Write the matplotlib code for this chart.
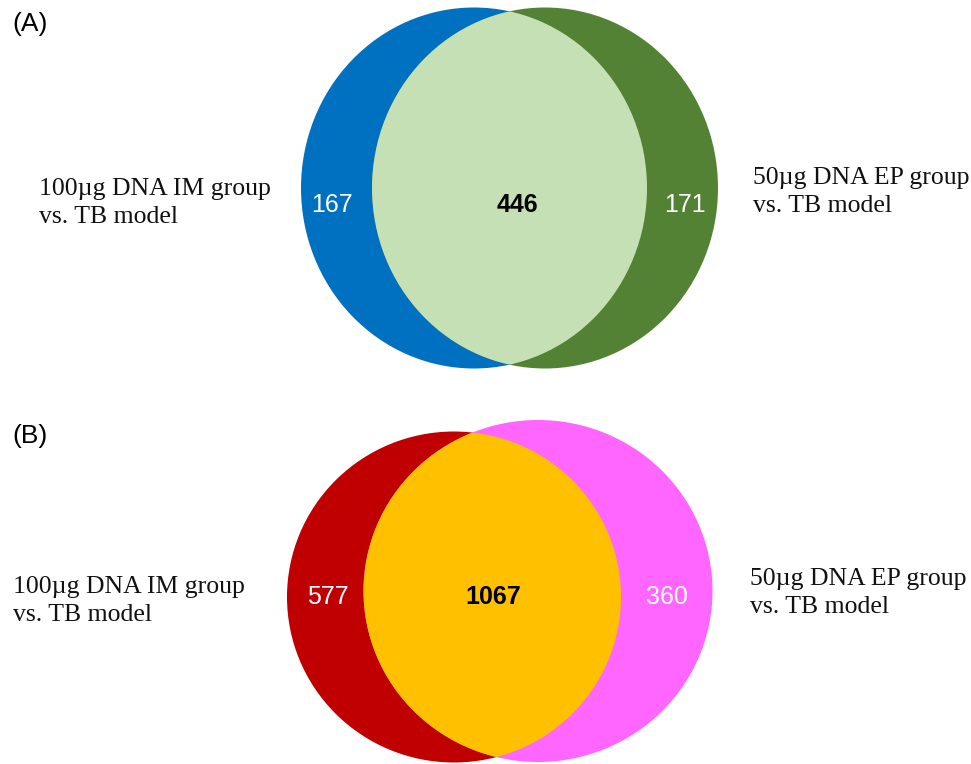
import matplotlib
matplotlib.use("Agg")
import matplotlib.pyplot as plt
from matplotlib.patches import Ellipse

# Data
panel_labels = ["(A)", "(B)"]
set_left_names = ["100µg DNA IM group\nvs. TB model", "100µg DNA IM group\nvs. TB model"]
set_right_names = ["50µg DNA EP group\nvs. TB model", "50µg DNA EP group\nvs. TB model"]
only_left = [167, 577]
both = [446, 1067]
only_right = [171, 360]

# Styles / layout (pixel coordinates)
left_colors = ["#0070C0", "#C00000"]
right_colors = ["#548235", "#FF66FF"]
mid_colors = ["#C5E0B4", "#FFC000"]
left_ell = [(474, 188, 346, 361), (454, 597, 334, 331)]
right_ell = [(545, 188, 346, 361), (538, 591, 349, 342)]
num_y = [205, 597]
num_x = [(332, 517, 685), (328, 493, 667)]
panel_label_pos = [(12, 24), (12, 436)]
left_text_pos = [(39, 195), (13, 593)]
right_text_pos = [(753, 184), (750, 585)]
line_gap = 28

W, H = 971, 764
fig = plt.figure(figsize=(W / 100, H / 100), dpi=100)
ax = fig.add_axes([0, 0, 1, 1])
ax.set_xlim(0, W)
ax.set_ylim(H, 0)
ax.axis("off")

sans = ["Liberation Sans", "DejaVu Sans"]
serif = ["Liberation Serif", "DejaVu Serif"]


def put_lines(x, y, txt):
    for k, line in enumerate(txt.split("\n")):
        ax.text(x, y + k * line_gap, line, fontsize=18.5, family=serif,
                ha="left", va="baseline", color="#111111")


for i in range(2):
    lx, ly, lw, lh = left_ell[i]
    rx, ry, rw, rh = right_ell[i]
    e_left = Ellipse((lx, ly), lw, lh, facecolor=left_colors[i], edgecolor="none", zorder=1)
    e_right = Ellipse((rx, ry), rw, rh, facecolor=right_colors[i], edgecolor="none", zorder=2)
    ax.add_patch(e_left)
    ax.add_patch(e_right)
    clip = Ellipse((lx, ly), lw, lh, facecolor="none", edgecolor="none")
    ax.add_patch(clip)
    e_mid = Ellipse((rx, ry), rw, rh, facecolor=mid_colors[i], edgecolor="none", zorder=3)
    ax.add_patch(e_mid)
    e_mid.set_clip_path(clip)

    x0, x1, x2 = num_x[i]
    ax.text(x0, num_y[i], str(only_left[i]), color="white", fontsize=18, family=sans,
            ha="center", va="center", zorder=5)
    ax.text(x1, num_y[i], str(both[i]), color="black", fontsize=18, family=sans,
            fontweight="bold", ha="center", va="center", zorder=5)
    ax.text(x2, num_y[i], str(only_right[i]), color="white", fontsize=18, family=sans,
            ha="center", va="center", zorder=5)

    px, py = panel_label_pos[i]
    ax.text(px, py, panel_labels[i], fontsize=19, family=sans, ha="left", va="center")
    put_lines(*left_text_pos[i], set_left_names[i])
    put_lines(*right_text_pos[i], set_right_names[i])

fig.savefig("out.png", dpi=100)
